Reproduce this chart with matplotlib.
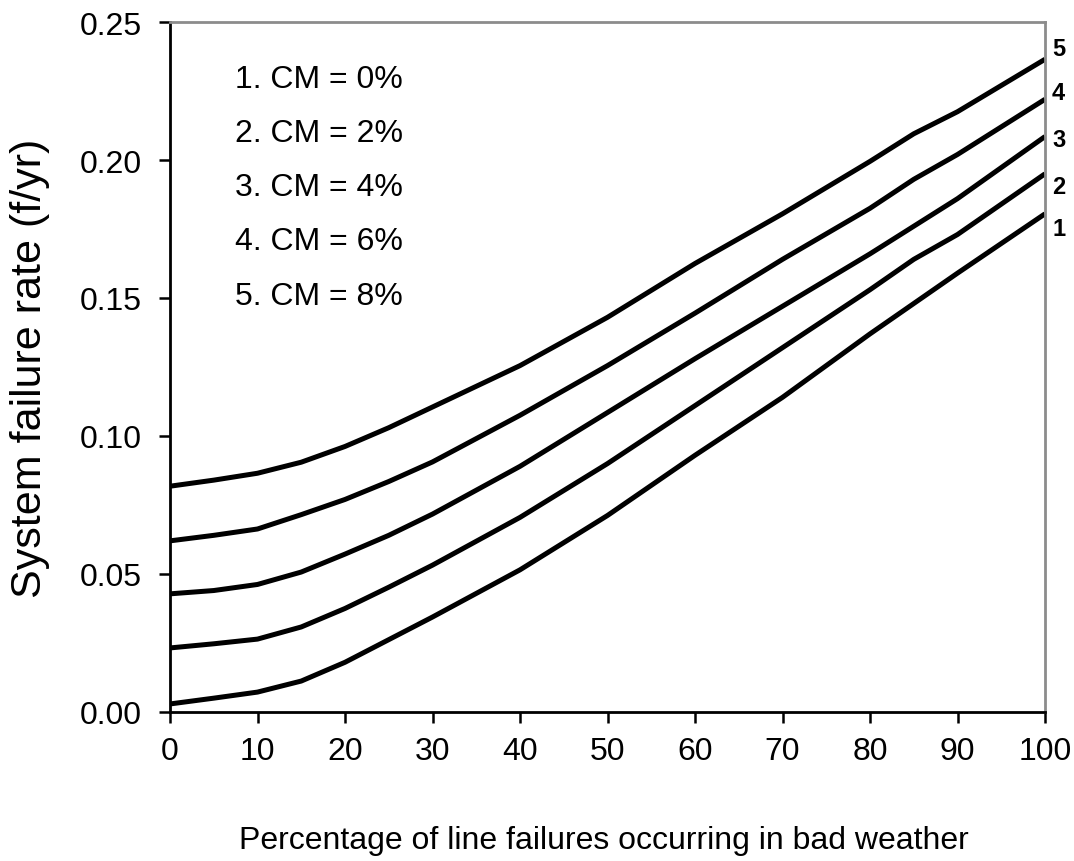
import matplotlib
matplotlib.use("Agg")
import matplotlib.pyplot as plt

plt.rcParams['font.family'] = ['Liberation Sans', 'DejaVu Sans']

# Данные
bad_weather_pct = [0, 5, 10, 15, 20, 25, 30, 40, 50, 60, 70, 80, 85, 90, 100]
rate_cm0 = [0.0029, 0.0050, 0.0072, 0.0112, 0.0180, 0.0262, 0.0344, 0.0515, 0.0712, 0.0930, 0.1140, 0.1370, 0.1480, 0.1590, 0.1805]
rate_cm2 = [0.0232, 0.0247, 0.0264, 0.0308, 0.0375, 0.0452, 0.0532, 0.0705, 0.0900, 0.1110, 0.1320, 0.1530, 0.1640, 0.1730, 0.1950]
rate_cm4 = [0.0428, 0.0440, 0.0462, 0.0507, 0.0572, 0.0640, 0.0717, 0.0890, 0.1085, 0.1280, 0.1470, 0.1660, 0.1760, 0.1860, 0.2085]
rate_cm6 = [0.0620, 0.0640, 0.0663, 0.0715, 0.0770, 0.0835, 0.0906, 0.1075, 0.1255, 0.1445, 0.1640, 0.1825, 0.1930, 0.2020, 0.2220]
rate_cm8 = [0.0818, 0.0840, 0.0865, 0.0905, 0.0962, 0.1030, 0.1105, 0.1255, 0.1430, 0.1625, 0.1805, 0.1995, 0.2095, 0.2175, 0.2365]
curves = [rate_cm0, rate_cm2, rate_cm4, rate_cm6, rate_cm8]
legend_lines = ['1. CM = 0%', '2. CM = 2%', '3. CM = 4%', '4. CM = 6%', '5. CM = 8%']
end_labels = ['1', '2', '3', '4', '5']
end_label_y = [0.175, 0.1905, 0.2075, 0.2245, 0.2405]

fig = plt.figure(figsize=(10.74, 8.62), dpi=100)
ax = fig.add_axes([0.1583, 0.1729, 0.8147, 0.8004])

for r in curves:
    ax.plot(bad_weather_pct, r, color='black', lw=3.6, solid_capstyle='butt')

ax.set_xlim(0, 100)
ax.set_ylim(0, 0.25)
ax.set_xticks(range(0, 101, 10))
ax.set_yticks([0, 0.05, 0.10, 0.15, 0.20, 0.25])
ax.set_yticklabels(['0.00', '0.05', '0.10', '0.15', '0.20', '0.25'])
ax.tick_params(direction='out', length=8, width=1.8, labelsize=23)
ax.tick_params(axis='x', pad=9)
ax.tick_params(axis='y', pad=12)

for side in ['left', 'bottom']:
    ax.spines[side].set_linewidth(2)
    ax.spines[side].set_color('black')
for side in ['top', 'right']:
    ax.spines[side].set_linewidth(2)
    ax.spines[side].set_color('#8c8c8c')

ax.set_xlabel('Percentage of line failures occurring in bad weather', fontsize=23)
ax.xaxis.label.set_va('center')
ax.xaxis.set_label_coords(0.496, -0.185)
ax.set_ylabel('System failure rate (f/yr)', fontsize=31)
ax.yaxis.label.set_va('center')
ax.yaxis.set_label_coords(-0.16, 0.5)

for i, t in enumerate(legend_lines):
    ax.text(7.4, 0.2293 - i * 0.0196, t, fontsize=23, va='center', ha='left')

for lab, y in zip(end_labels, end_label_y):
    ax.text(100.8, y, lab, fontsize=17, fontweight='bold', va='center', ha='left', clip_on=False)

fig.savefig('out.png', dpi=100)
